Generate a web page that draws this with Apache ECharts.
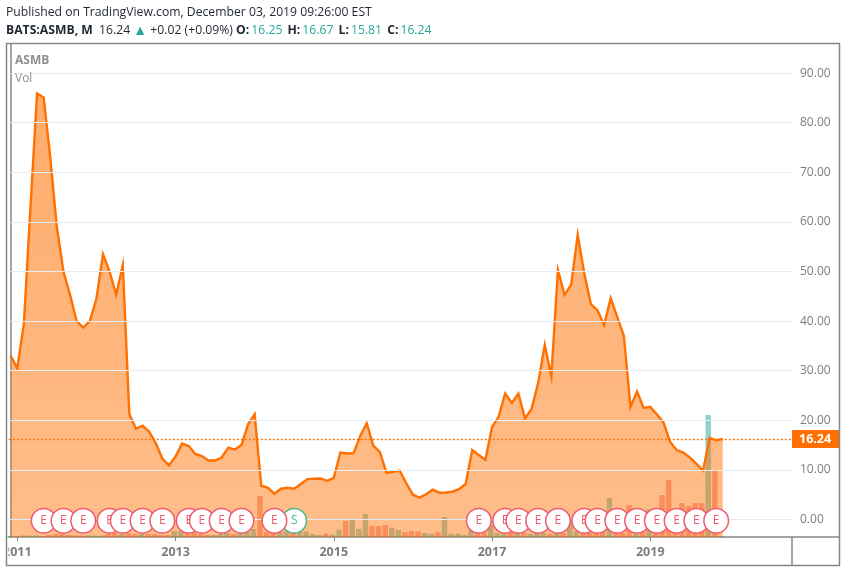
<!DOCTYPE html>
<html><head><meta charset="utf-8">
<style>html,body{margin:0;padding:0;background:#fff}#c{width:846px;height:572px}</style>
<script src="https://cdn.jsdelivr.net/npm/echarts@6/dist/echarts.min.js"></script>
</head><body><div id="c"></div>
<script>
// month index 0 = 2010-12, monthly closes
const closes = [33,30.5,39.5,63,85.9,85.1,73,59,50,45.3,40,38.7,40,44.5,53.5,50,45.3,51.3,21.2,18.3,18.9,17.7,15.4,12.3,10.9,12.7,15.3,14.8,13.2,12.8,11.9,11.9,12.5,14.5,14.1,15,19.2,21.2,6.8,6.4,5.2,6.2,6.4,6.2,7.15,8.15,8.2,8.25,7.8,8.4,13.5,13.3,13.35,16.8,19.4,14.9,13.6,9.4,9.6,9.85,7.3,5,4.4,5.1,6,5.4,5.45,5.6,6.1,7.15,14,13,12,18.6,20.7,25.4,23.5,25.4,20.4,22.3,27.5,35.2,28.9,50.3,45.3,47.3,57.4,49.6,43.4,42.2,39.2,44.6,40.8,37,22.7,25.8,22.5,22.7,21.2,19.6,15.7,14,13.5,12.5,11.2,9.85,16.4,16,16.24];
const volumes = [1,1,1.5,1.5,1.5,1,2,3,3,2,1.5,1.5,1.5,1.5,1.5,3,4,3,4,3,3,3,3,2,2,6,6,4,4,3,2,2,3,4,3,4,5,8,41,5,4,5,6,5,5,5.5,3,2,3.3,2.3,7.3,16,18,8,23,11,11,12,9,7,5,6,5.5,4,3.3,5,20,3.3,3.3,2,7,5,5,12,4,4,5,4,4,3,4,4,3,5,4,14,6,5,4,4,5,39,10,4,32,5,5,28,4,42,57,10,34,31,34,34,122,67,1];
const earningsMonths = [5,8,11,15,17,20,23,27,29,32,35,40,71,75,77,80,83,87,89,92,95,98,101,104,107];
const splitMonths = [43];
const priceTicks = [0,10,20,30,40,50,60,70,80,90];
const yearTicks = {1:'2011',25:'2013',49:'2015',73:'2017',97:'2019'};
const lastPrice = 16.24;
const volumeShift = -0.2;

const up='rgba(38,166,154,0.5)', down='rgba(239,83,80,0.5)';
const font='"Open Sans", sans-serif';
const grey='#7d7d7d', teal='#26a69a', ink='#1f2630';
const chart = echarts.init(document.getElementById('c'));
const xTicks = Object.keys(yearTicks).map(Number);
const markers = [...splitMonths.map(m=>[m,'S']), ...earningsMonths.map(m=>[m,'E'])].map(d=>[d[0],-0.25,d[1]]);

chart.setOption({
  animation:false,
  title:[
    {left:6,top:7,padding:0,text:'Published on TradingView.com, December 03, 2019 09:26:00 EST',
     textStyle:{fontFamily:font,fontSize:12.2,fontWeight:'normal',color:ink}},
    {left:6,top:24,padding:0,
     text:'{b|BATS:ASMB, M}  16.24 {t|▲} +0.02 (+0.09%) {b|O:}{g|16.25} {b|H:}{g|16.67} {b|L:}{g|15.81} {b|C:}{g|16.24}',
     textStyle:{fontFamily:font,fontSize:12.2,fontWeight:'normal',color:ink,
       rich:{b:{fontFamily:font,fontSize:12.2,fontWeight:'bold',color:ink},
             g:{fontFamily:font,fontSize:12.2,color:teal,padding:[0,2,0,2]},
             t:{fontFamily:font,fontSize:14,color:teal}}}}
  ],
  grid:{left:7,right:54,top:44,bottom:35,containLabel:false},
  xAxis:{type:'value',min:-0.29,max:118.5,
    splitLine:{show:false},
    axisLine:{show:true,onZero:false,lineStyle:{color:'#868686',width:1.5}},
    axisTick:{show:true,length:4,customValues:xTicks,lineStyle:{color:'#868686'}},
    axisLabel:{customValues:xTicks,formatter:v=>yearTicks[v]||'',color:grey,fontFamily:font,fontSize:12.5,fontWeight:'bold',margin:9,hideOverlap:false}},
  yAxis:[
    {type:'value',position:'right',min:-3.53,max:95.87,
     splitLine:{show:false},
     axisLine:{show:true,lineStyle:{color:'#868686',width:1.5}},
     axisTick:{show:true,length:5,customValues:priceTicks,lineStyle:{color:'#868686'}},
     axisLabel:{customValues:priceTicks,formatter:v=>v.toFixed(2),color:grey,fontFamily:font,fontSize:12,margin:8}},
    {type:'value',show:false,min:0,max:493,splitLine:{show:false}}
  ],
  series:[
    {type:'line',z:1,data:[],silent:true,
     markLine:{silent:true,symbol:'none',animation:false,label:{show:false},
       lineStyle:{color:'#e3edf3',width:1,type:'solid'},
       data:priceTicks.map(v=>({yAxis:v}))}},
    {type:'bar',yAxisIndex:1,z:2,barWidth:5.5,silent:true,
     data:volumes.map((v,i)=>({value:[i+volumeShift,v],
       itemStyle:{color:(i===0||closes[i]>=closes[i-1])?up:down}}))},
    {type:'line',z:3,silent:true,symbol:'none',showSymbol:false,
     data:closes.map((v,i)=>[i,v]),
     lineStyle:{color:'#ff7000',width:2.4,join:'miter'},
     areaStyle:{origin:'start',opacity:1,color:new echarts.graphic.LinearGradient(0,0,0,1,[
       {offset:0,color:'rgba(255,112,0,0.58)'},{offset:1,color:'rgba(255,112,0,0.46)'}])},
     markLine:{silent:true,symbol:'none',animation:false,
       lineStyle:{color:'#ff7000',width:1.4,type:[2,2]},
       label:{show:true,position:'end',distance:0,formatter:p=>p.value.toFixed(2),
         backgroundColor:'#ff7000',color:'#fff',fontFamily:font,fontSize:12.5,fontWeight:'bold',
         width:40,height:18,lineHeight:18,align:'left',padding:[0,0,0,7]},
       data:[{yAxis:lastPrice}]}},
    {type:'custom',z:5,silent:true,clip:false,coordinateSystem:'cartesian2d',
     encode:{x:0,y:1},data:markers,
     renderItem:(params,api)=>{
       const p=api.coord([api.value(0),api.value(1)]);
       const isE=api.value(2)==='E';
       const col=isE?'#ef5a6f':'#4cb782';
       const z=params.dataIndex*2+1;
       return {type:'group',children:[
         {type:'circle',z2:z,shape:{cx:p[0],cy:p[1],r:12.3},style:{fill:'#fff',stroke:col,lineWidth:1.5}},
         {type:'text',z2:z+1,x:p[0],y:p[1],style:{text:api.value(2),fill:col,fontFamily:font,fontSize:12,align:'center',verticalAlign:'middle'}}
       ]};
     }}
  ],
  graphic:[
    {type:'rect',z:50,silent:true,shape:{x:0,y:540,width:8.5,height:32},style:{fill:'#fff'}},
    {type:'rect',z:51,silent:true,shape:{x:6.5,y:43.5,width:833,height:522},style:{fill:'none',stroke:'#868686',lineWidth:1.5}},
    {type:'line',z:51,silent:true,shape:{x1:792,y1:537,x2:839,y2:537},style:{stroke:'#868686',lineWidth:1.5}},
    {type:'line',z:51,silent:true,shape:{x1:792,y1:537,x2:792,y2:565},style:{stroke:'#868686',lineWidth:1.5}},
    {type:'text',z:52,silent:true,x:15,y:55,style:{text:'ASMB',fill:'#8f8f8f',fontFamily:font,fontSize:12,fontWeight:'bold'}},
    {type:'text',z:52,silent:true,x:15,y:73,style:{text:'Vol',fill:'#8f8f8f',fontFamily:font,fontSize:12}}
  ]
});
</script></body></html>
